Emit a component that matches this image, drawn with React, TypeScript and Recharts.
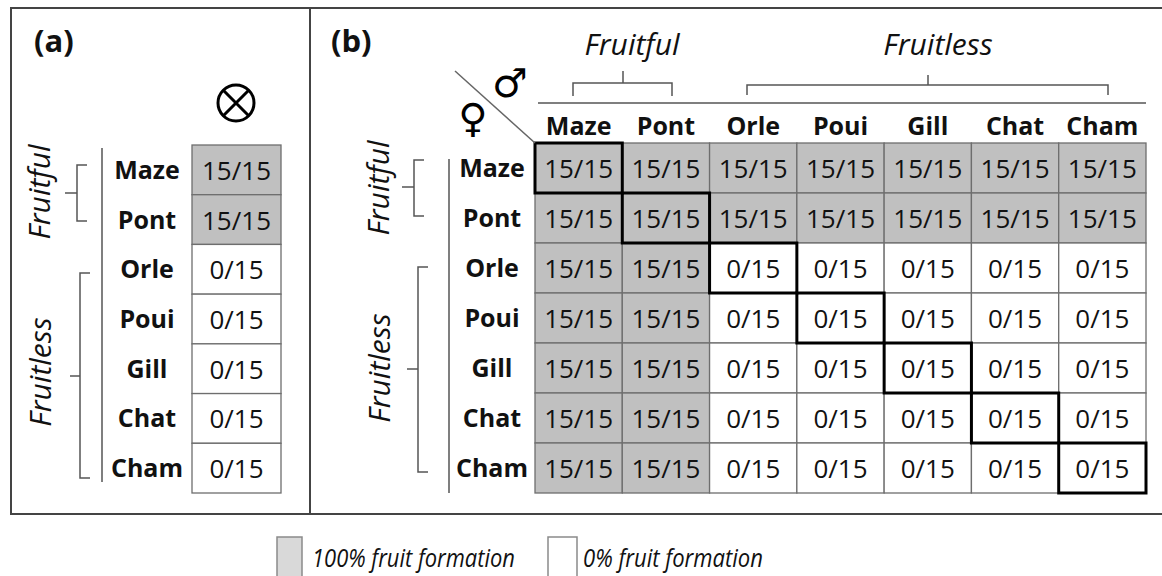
import React from 'react';
import { ScatterChart, Scatter, XAxis, YAxis } from 'recharts';

// Cultivars: rows = female (pollen receiver), columns = male (pollen donor)
const males = ['Maze', 'Pont', 'Orle', 'Poui', 'Gill', 'Chat', 'Cham'];
const females = ['Maze', 'Pont', 'Orle', 'Poui', 'Gill', 'Chat', 'Cham'];
const flowersPollinated = 15;

// (a) self-pollination: fruits formed out of 15 flowers
const selfFruits = [15, 15, 0, 0, 0, 0, 0];

// (b) cross-pollination: fruits formed out of 15 flowers
const crossFruits = [
  [15, 15, 15, 15, 15, 15, 15],
  [15, 15, 15, 15, 15, 15, 15],
  [15, 15, 0, 0, 0, 0, 0],
  [15, 15, 0, 0, 0, 0, 0],
  [15, 15, 0, 0, 0, 0, 0],
  [15, 15, 0, 0, 0, 0, 0],
  [15, 15, 0, 0, 0, 0, 0],
];

const FONT = '"Open Sans", sans-serif';
const GRAY = '#c0c0c0';
const LINE = '#6e6e6e';
const W = 1162;
const H = 576;

const selfData = selfFruits.map((v, i) => ({ x: 0, y: i, fruits: v }));
const crossData = crossFruits.flatMap((row, f) =>
  row.map((v, m) => ({ x: m, y: f, fruits: v }))
);
const diagData = males.map((_, i) => ({ x: i, y: i }));

// panel geometry
const A = { left: 192, right: 281, top: 145, bottom: 493 };
const B = { left: 535, right: 1146, top: 143, bottom: 493 };

const makeCell = (cw: number, ch: number) => (props: any) => {
  const { cx, cy, payload } = props;
  const full = payload.fruits === flowersPollinated;
  return (
    <g>
      <rect x={cx - cw / 2} y={cy - ch / 2} width={cw} height={ch}
        fill={full ? GRAY : '#ffffff'} stroke={LINE} strokeWidth={1.3} />
      <text x={cx} y={cy + 10} textAnchor="middle" fontFamily={FONT}
        fontSize={26} fill="#111">{`${payload.fruits}/${flowersPollinated}`}</text>
    </g>
  );
};

const makeBold = (cw: number, ch: number) => (props: any) => {
  const { cx, cy } = props;
  return <rect x={cx - cw / 2} y={cy - ch / 2} width={cw} height={ch}
    fill="none" stroke="#000" strokeWidth={3} />;
};

const makeRowTick = (labelX: number) => (props: any) => {
  const { y, payload } = props;
  return (
    <text x={labelX} y={y + 9} textAnchor="middle" fontFamily={FONT}
      fontWeight={700} fontSize={25} fill="#111">{females[payload.value]}</text>
  );
};

const ColTick = (props: any) => {
  const { x, payload } = props;
  return (
    <text x={x} y={B.top - 8} textAnchor="middle" fontFamily={FONT}
      fontWeight={700} fontSize={25} fill="#111">{males[payload.value]}</text>
  );
};

const idx = [0, 1, 2, 3, 4, 5, 6];

const Decor: React.FC = () => {
  const ln = { stroke: '#555', strokeWidth: 1.5, fill: 'none' };
  const it = { fontFamily: FONT, fontStyle: 'italic' as const, fill: '#111' };
  return (
    <svg width={W} height={H} style={{ position: 'absolute', left: 0, top: 0, pointerEvents: 'none' }}>
      {/* frame */}
      <path d={`M1162 8 H11 V514 H1162 M310 8 V514`} stroke="#444" strokeWidth={2} fill="none" />
      <text x={34} y={52} fontFamily={FONT} fontWeight={700} fontSize={31} fill="#111">(a)</text>
      <text x={331} y={52} fontFamily={FONT} fontWeight={700} fontSize={31} fill="#111">(b)</text>

      {/* (a) self symbol */}
      <circle cx={236} cy={103} r={18} stroke="#000" strokeWidth={3} fill="none" />
      <path d="M223.3 90.3 L248.7 115.7 M248.7 90.3 L223.3 115.7" stroke="#000" strokeWidth={3} />

      {/* (a) row brackets */}
      <path d="M102 148 V482" {...ln} />
      <path d="M87 165 H77 V221 H87 M65 193 H77" {...ln} />
      <path d="M90 273 H80 V478 H90 M70 376 H80" {...ln} />
      <text transform="translate(50 192) rotate(-90)" textAnchor="middle" fontSize={30} {...it}>Fruitful</text>
      <text transform="translate(51 372) rotate(-90)" textAnchor="middle" fontSize={30} {...it}>Fruitless</text>

      {/* (b) row brackets */}
      <path d="M449 159 V493" {...ln} />
      <path d="M424 160 H414 V216 H424 M402 187 H414" {...ln} />
      <path d="M428 267 H418 V472 H428 M407 369 H418" {...ln} />
      <text transform="translate(389 188) rotate(-90)" textAnchor="middle" fontSize={30} {...it}>Fruitful</text>
      <text transform="translate(390 368) rotate(-90)" textAnchor="middle" fontSize={30} {...it}>Fruitless</text>

      {/* (b) column brackets */}
      <path d="M538 103 H1146" {...ln} />
      <path d="M573 96 V83 H672 V96 M623 71 V83" {...ln} />
      <path d="M747 95 V85 H1108 V95 M928 75 V85" {...ln} />
      <text x={632} y={55} textAnchor="middle" fontSize={30} {...it}>Fruitful</text>
      <text x={938} y={55} textAnchor="middle" fontSize={30} {...it}>Fruitless</text>

      {/* (b) corner */}
      <path d="M455 71 L535 143" stroke="#666" strokeWidth={1.5} />
      <text x={510} y={97} textAnchor="middle" fontFamily="DejaVu Sans" fontSize={40} fill="#000">♂</text>
      <text x={473} y={132} textAnchor="middle" fontFamily="DejaVu Sans" fontSize={40} fill="#000">♀</text>

      {/* legend */}
      <rect x={277} y={537} width={25} height={40} fill="#d9d9d9" stroke="#8a8a8a" strokeWidth={1.5} />
      <text x={312} y={567} fontSize={26} textLength={203} lengthAdjust="spacingAndGlyphs" {...it}>100% fruit formation</text>
      <rect x={548} y={537} width={29} height={40} fill="#fff" stroke="#8a8a8a" strokeWidth={1.5} />
      <text x={583} y={567} fontSize={26} textLength={180} lengthAdjust="spacingAndGlyphs" {...it}>0% fruit formation</text>
    </svg>
  );
};

const App: React.FC = () => {
  const aW = A.right - A.left;
  const aH = (A.bottom - A.top) / females.length;
  const bW = (B.right - B.left) / males.length;
  const bH = (B.bottom - B.top) / females.length;
  const yAxisW = 100;
  const xAxisH = 30;

  return (
    <div style={{ position: 'absolute', left: 0, top: 0, width: W, height: H, background: '#fff', overflow: 'hidden' }}>
      {/* (a) self-pollination */}
      <div style={{ position: 'absolute', left: 0, top: 0 }}>
        <ScatterChart width={310} height={H}
          margin={{ top: A.top, right: 310 - A.right, bottom: H - A.bottom, left: A.left - yAxisW }}>
          <XAxis type="number" dataKey="x" domain={[-0.5, 0.5]} hide />
          <YAxis type="number" dataKey="y" domain={[-0.5, 6.5]} ticks={idx} reversed
            width={yAxisW} axisLine={false} tickLine={false} interval={0}
            tick={makeRowTick(147)} />
          <Scatter data={selfData} shape={makeCell(aW, aH)} isAnimationActive={false} />
        </ScatterChart>
      </div>

      {/* (b) cross-pollination */}
      <div style={{ position: 'absolute', left: 0, top: 0 }}>
        <ScatterChart width={W} height={H}
          margin={{ top: B.top - xAxisH, right: W - B.right, bottom: H - B.bottom, left: B.left - yAxisW }}>
          <XAxis type="number" dataKey="x" domain={[-0.5, 6.5]} ticks={idx} orientation="top"
            height={xAxisH} axisLine={false} tickLine={false} interval={0} tick={ColTick} />
          <YAxis type="number" dataKey="y" domain={[-0.5, 6.5]} ticks={idx} reversed
            width={yAxisW} axisLine={false} tickLine={false} interval={0}
            tick={makeRowTick(492)} />
          <Scatter data={crossData} shape={makeCell(bW, bH)} isAnimationActive={false} />
          <Scatter data={diagData} shape={makeBold(bW, bH)} isAnimationActive={false} />
        </ScatterChart>
      </div>

      <Decor />
    </div>
  );
};

export default App;
